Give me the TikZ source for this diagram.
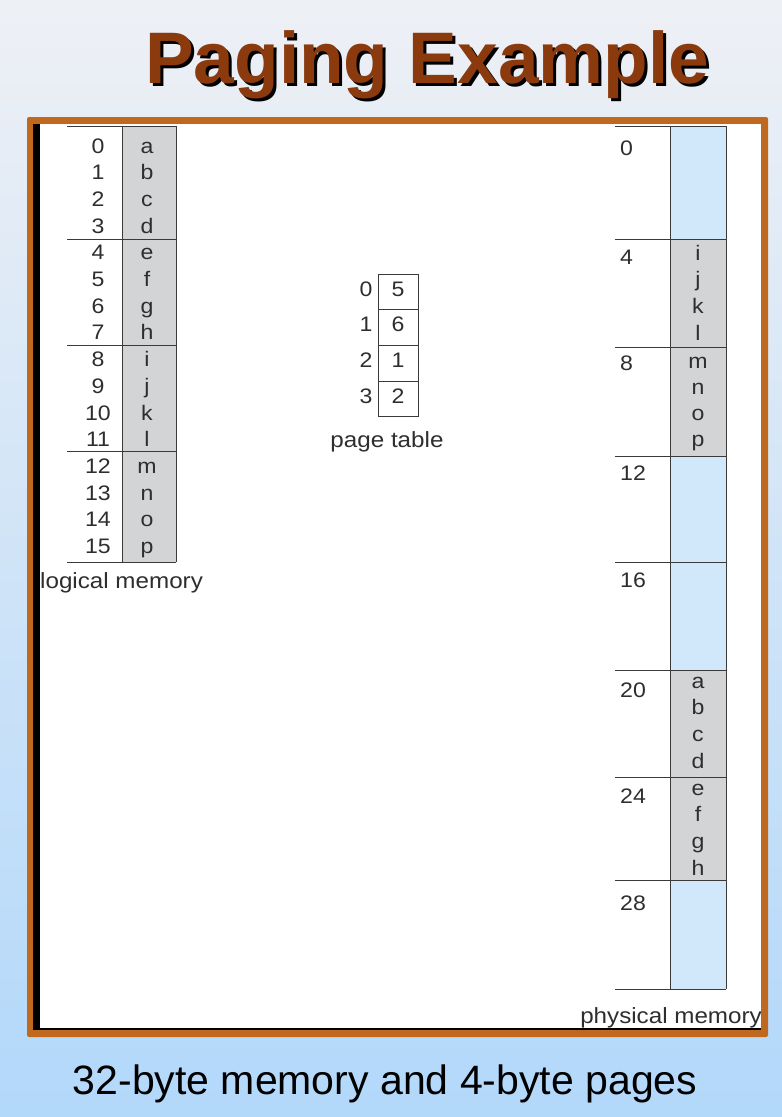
\documentclass[tikz,border=0pt]{standalone}
\usepackage{fontspec}
\setmainfont{Liberation Sans}
\newfontfamily\widesans[FakeStretch=1.1]{Liberation Sans}
\definecolor{bgtop}{HTML}{EEF0F5}
\definecolor{bgbot}{HTML}{B2D8FA}
\definecolor{titlec}{HTML}{8B3A0E}
\definecolor{framec}{HTML}{C0691E}
\definecolor{txtc}{HTML}{2E2E2E}
\definecolor{linec}{HTML}{3A3A3A}
\definecolor{grayc}{HTML}{D3D4D6}
\definecolor{bluec}{HTML}{D1E8FA}
\begin{document}
\begin{tikzpicture}[x=1pt,y=-1pt,
  txt/.style={font=\widesans\fontsize{21}{21}\selectfont, text=txtc, inner sep=0pt, anchor=base},
  captxt/.style={font=\widesans\fontsize{22}{22}\selectfont, text=txtc, inner sep=0pt, anchor=base},
  ttl/.style={font=\fontsize{73}{73}\selectfont\bfseries, inner sep=0pt, anchor=base west},
  tbl/.style={draw=linec, line width=1pt},
  gcell/.style={fill=grayc},
  bcell/.style={fill=bluec}]
\useasboundingbox (0,0) rectangle (782,1117);
\shade[top color=bgtop, bottom color=bgbot] (0,0) rectangle (782,1117);
% title with shadow
\node[ttl, text=black] (titleshadow) at (148,86) {Paging Example};
\node[ttl, text=titlec] (title) at (145,83) {Paging Example};
% frame
\fill[framec, rounded corners=2pt] (27,117) rectangle (768,1037);
\fill[black] (33,124) rectangle (761,1030);
\fill[white] (40,124) rectangle (761,1028);
% logical memory
\fill[gcell] (122,126) rectangle (176,562);
\foreach \yy in {126,239,345,451,562} \draw[tbl] (67,\yy) -- (176,\yy);
\draw[tbl] (122,126) -- (122,562);
\draw[tbl] (176,126) -- (176,562);
\foreach \ch [count=\i from 0] in {a,b,c,d,e,f,g,h,i,j,k,l,m,n,o,p} {
  \node[txt] (ln\i) at (98,{153+26.7*\i}) {\i};
  \node[txt] (lc\i) at (147,{153+26.7*\i}) {\ch};
}
\node[captxt, anchor=base west] (logcap) at (40,588) {logical memory};
% page table
\foreach \v [count=\i from 0] in {5,6,1,2} {
  \draw[tbl] (378,{274+35.7*\i}) rectangle (418,{274+35.7*(\i+1)});
  \node[txt] (pi\i) at (366,{296+35.7*\i}) {\i};
  \node[txt] (pv\i) at (398,{296+35.7*\i}) {\v};
}
\node[captxt] (ptcap) at (387,447) {page table};
% physical memory
\fill[bcell] (670,126) rectangle (726,239);
\fill[gcell] (670,239) rectangle (726,456);
\fill[bcell] (670,456) rectangle (726,670);
\fill[gcell] (670,670) rectangle (726,880);
\fill[bcell] (670,880) rectangle (726,989);
\foreach \yy in {126,239,347,456,562,670,777,880,989} \draw[tbl] (615,\yy) -- (726,\yy);
\draw[tbl] (670,126) -- (670,989);
\draw[tbl] (726,126) -- (726,989);
\foreach \lab/\yy [count=\k] in {0/155,4/264,8/370,12/480,16/587,20/697,24/803,28/910}
  \node[txt, anchor=base west] (fa\k) at (620,\yy) {\lab};
\foreach \ch [count=\i from 0] in {i,j,k,l}
  \node[txt] (p1c\i) at (698,{260+26.7*\i}) {\ch};
\foreach \ch [count=\i from 0] in {m,n,o,p}
  \node[txt] (p2c\i) at (698,{368+26*\i}) {\ch};
\foreach \ch [count=\i from 0] in {a,b,c,d}
  \node[txt] (p5c\i) at (698,{688+26.7*\i}) {\ch};
\foreach \ch [count=\i from 0] in {e,f,g,h}
  \node[txt] (p6c\i) at (698,{795+26.7*\i}) {\ch};
\node[captxt, anchor=base east] (phcap) at (762,1023) {physical memory};
% caption
\node[font=\fontsize{41}{41}\selectfont, text=black, inner sep=0pt, anchor=base] (caption) at (385,1094) {32-byte memory and 4-byte pages};
\end{tikzpicture}
\end{document}
